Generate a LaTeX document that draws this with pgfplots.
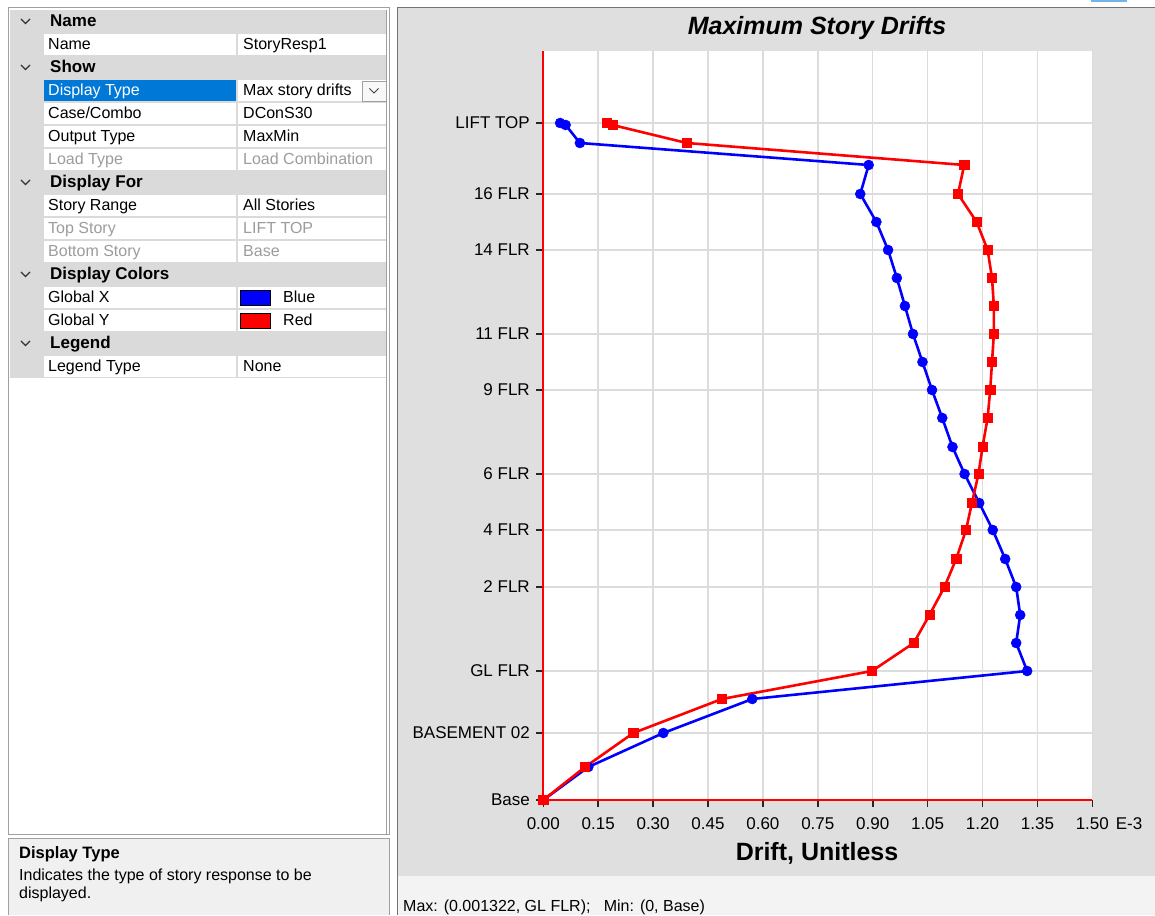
\documentclass[border=0pt]{standalone}
\usepackage{fontspec}
\setmainfont{Liberation Sans}
\usepackage{pgfplots}
\usepackage{pgfplotstable}
\pgfplotsset{compat=1.18}

\definecolor{chartbg}{HTML}{DFDFDF}
\definecolor{hdrgray}{HTML}{DADADA}
\definecolor{gridgray}{HTML}{DCDCDC}
\definecolor{selblue}{HTML}{0078D7}
\definecolor{dimtext}{HTML}{9C9C9C}
\definecolor{bordergray}{HTML}{A0A0A0}
\definecolor{statusgray}{HTML}{F3F3F3}
\definecolor{descgray}{HTML}{F0F0F0}

\newcommand\fs[1]{\fontsize{#1}{#1}\selectfont}

% story drift, E-3 (x) against level (y)
\pgfplotstableread{
drift level
0.000  0.0
0.123  3.3
0.328  6.7
0.571 10.1
1.322 12.9
1.292 15.7
1.303 18.5
1.292 21.3
1.262 24.1
1.228 27.0
1.191 29.7
1.151 32.6
1.118 35.3
1.090 38.2
1.062 41.0
1.036 43.8
1.010 46.6
0.988 49.4
0.966 52.2
0.942 55.0
0.910 57.8
0.866 60.6
0.889 63.5
0.100 65.7
0.061 67.5
0.046 67.7
}\globalx

\pgfplotstableread{
drift level
0.000  0.0
0.114  3.3
0.246  6.7
0.488 10.1
0.898 12.9
1.012 15.7
1.055 18.5
1.096 21.3
1.128 24.1
1.155 27.0
1.171 29.7
1.189 32.6
1.200 35.3
1.214 38.2
1.221 41.0
1.226 43.8
1.231 46.6
1.231 49.4
1.226 52.2
1.214 55.0
1.184 57.8
1.133 60.6
1.150 63.5
0.392 65.7
0.189 67.5
0.173 67.7
}\globaly

% property grid rows (coordinates in screen pixels, y downwards)
\newcommand\hdr[2]{%
  \draw[black!80, line width=1.3pt] (21,#1-2.5) -- (25.5,#1+2) -- (30,#1-2.5);
  \node[anchor=base west, inner sep=0, font=\fs{17}\bfseries] at (50,#1+5.5) {#2};
}
\newcommand\prop[4][black]{%
  \fill[white] (44,#2-10.5) rectangle (236,#2+10.5);
  \fill[white] (238,#2-10.5) rectangle (386,#2+10.5);
  \node[anchor=base west, inner sep=0, font=\fs{16}, text=#1] at (48,#2+5.5) {#3};
  \node[anchor=base west, inner sep=0, font=\fs{16}, text=#1] at (243,#2+5.5) {#4};
}

\begin{document}
\begin{tikzpicture}[x=1pt, y=1pt]
\path[use as bounding box] (0,0) rectangle (1155,915);

\begin{scope}[shift={(0,915)}, y=-1pt]
% background
\fill[white] (0,0) rectangle (1155,915);
\fill[selblue!55] (1091,0) rectangle (1127,2.5);

% left panel
\fill[white] (8,7) rectangle (390,838);
\fill[hdrgray] (10,10) rectangle (387,378);
\hdr{21.5}{Name}
\prop{44.5}{Name}{StoryResp1}
\hdr{67.5}{Show}
\fill[selblue] (44,80) rectangle (236,101);
\fill[white] (238,80) rectangle (386,101);
\node[anchor=base west, inner sep=0, font=\fs{16}, text=white] at (48,96) {Display Type};
\node[anchor=base west, inner sep=0, font=\fs{16}] at (243,96) {Max story drifts};
\draw[bordergray, fill=descgray!50] (362,81) rectangle (386,101);
\draw[black!75, line width=1pt] (369.5,88.5) -- (374,93) -- (378.5,88.5);
\prop{113.5}{Case/Combo}{DConS30}
\prop{136.5}{Output Type}{MaxMin}
\prop[dimtext]{159.5}{Load Type}{Load Combination}
\hdr{182.5}{Display For}
\prop{205.5}{Story Range}{All Stories}
\prop[dimtext]{228.5}{Top Story}{LIFT TOP}
\prop[dimtext]{251.5}{Bottom Story}{Base}
\hdr{274.5}{Display Colors}
\prop{297.5}{Global X}{}
\fill[blue, draw=black, line width=0.8pt] (240,290) rectangle (270,305);
\node[anchor=base west, inner sep=0, font=\fs{16}] at (283,303) {Blue};
\prop{320.5}{Global Y}{}
\fill[red, draw=black, line width=0.8pt] (240,313) rectangle (270,328);
\node[anchor=base west, inner sep=0, font=\fs{16}] at (283,326) {Red};
\hdr{343.5}{Legend}
\prop{366.5}{Legend Type}{None}
\draw[bordergray, line width=1pt] (8.5,7.5) rectangle (389.5,834);
\draw[bordergray, line width=0.8pt] (386.5,10) -- (386.5,834);

% description box
\fill[descgray] (8,838) rectangle (390,915);
\draw[bordergray, line width=1pt] (389.5,915) -- (389.5,838.5) -- (8.5,838.5) -- (8.5,915);
\node[anchor=base west, inner sep=0, font=\fs{16.5}\bfseries] at (19,858) {Display Type};
\node[anchor=base west, inner sep=0, font=\fs{16}] at (19,880) {Indicates the type of story response to be};
\node[anchor=base west, inner sep=0, font=\fs{16}] at (19,898) {displayed.};

% chart panel
\fill[chartbg] (397,7) rectangle (1155,876);
\fill[statusgray] (397,876) rectangle (1155,915);
\draw[black!55, line width=1pt] (397.5,915) -- (397.5,7.5) -- (1155,7.5);
\node[anchor=base west, inner sep=0, font=\fs{16}] at (403,911) {Max: (0.001322, GL FLR);\ \ \ Min: (0, Base)};

\node[anchor=base, inner sep=0, font=\fs{25}\bfseries\itshape] at (817,35) {Maximum Story Drifts};
\node[anchor=base, inner sep=0, font=\fs{25}\bfseries] at (817,860) {Drift, Unitless};
\end{scope}

\begin{axis}[
  at={(543.3pt,115pt)}, anchor=south west,
  scale only axis,
  width=549pt, height=749pt,
  xmin=0, xmax=1.5, ymin=0, ymax=74.9,
  axis lines*=left,
  axis line style={red, line width=2pt},
  axis background/.style={fill=white},
  xtick={0,0.15,0.3,0.45,0.6,0.75,0.9,1.05,1.2,1.35,1.5},
  xticklabels={0.00,0.15,0.30,0.45,0.60,0.75,0.90,1.05,1.20,1.35,{1.50\rlap{\hspace{7pt}E-3}}},
  ytick={0,6.7,12.9,21.3,27.0,32.6,41.0,46.6,55.0,60.6,67.7},
  yticklabels={Base,BASEMENT 02,GL FLR,2 FLR,4 FLR,6 FLR,9 FLR,11 FLR,14 FLR,16 FLR,LIFT TOP},
  tick align=outside,
  major tick length=7pt,
  tick style={black!85, line width=1.6pt},
  grid=major,
  major grid style={gridgray, line width=1.5pt},
  ticklabel style={font=\fs{17}, text=black},
  xticklabel style={yshift=-7pt},
  yticklabel style={xshift=-3pt},
  clip=false,
]
\addplot[blue, line width=2.6pt, mark=*, mark size=5pt,
  mark options={solid, fill=blue, draw=blue, line width=0.5pt}]
  table[x=drift, y=level] {\globalx};
\addplot[red, line width=2.6pt, mark=square*, mark size=4.6pt,
  mark options={solid, fill=red, draw=red, line width=0.5pt}]
  table[x=drift, y=level] {\globaly};
\end{axis}
\end{tikzpicture}
\end{document}
